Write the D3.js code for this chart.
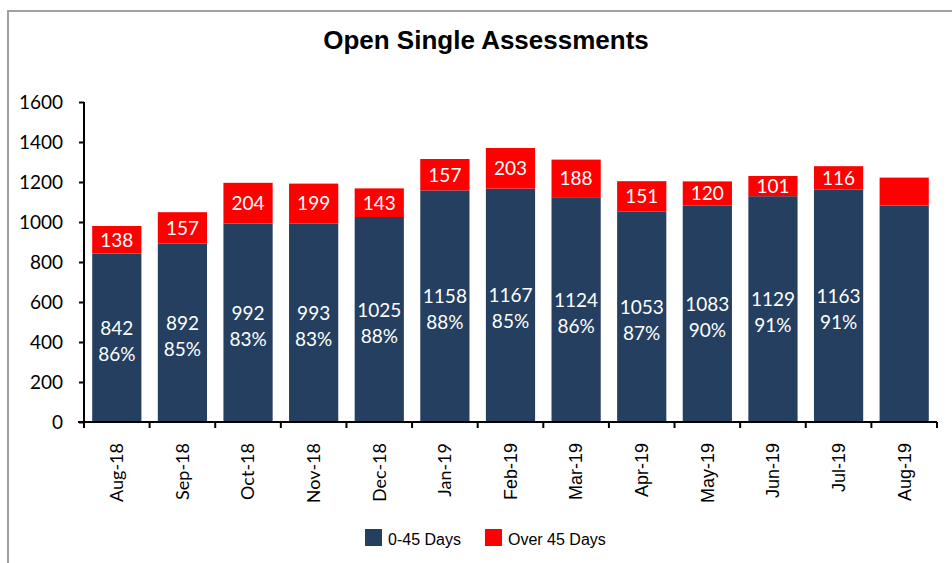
<!DOCTYPE html>
<html>
<head>
<meta charset="utf-8">
<script src="https://cdn.jsdelivr.net/npm/d3@7"></script>
<style>
  body { margin: 0; background: #fff; }
  svg { display: block; }
</style>
</head>
<body>
<div id="chart"></div>
<script>
// months on the x axis
var months = ["Aug-18", "Sep-18", "Oct-18", "Nov-18", "Dec-18", "Jan-19", "Feb-19",
              "Mar-19", "Apr-19", "May-19", "Jun-19", "Jul-19", "Aug-19"];
// 0-45 days (blue) and over 45 days (red)
var within45 = [842, 892, 992, 993, 1025, 1158, 1167, 1124, 1053, 1083, 1129, 1163, 1082];
var over45 = [138, 157, 204, 199, 143, 157, 203, 188, 151, 120, 101, 116, 140];
// percent labels shown in the blue part (last month has none)
var pctLabels = ["86%", "85%", "83%", "83%", "88%", "88%", "85%", "86%", "87%", "90%", "91%", "91%", null];
var showLabels = [true, true, true, true, true, true, true, true, true, true, true, true, false];
var yTicks = [0, 200, 400, 600, 800, 1000, 1200, 1400, 1600];

var W = 952, H = 563;
var blue = "#243f60", red = "#ff0000";
var numFont = "Lato, 'Open Sans', sans-serif";
var arial = "'Liberation Sans', Arial, sans-serif";

var svg = d3.select("#chart").append("svg")
    .attr("width", W)
    .attr("height", H);

// chart frame (runs off the right and bottom edge)
svg.append("rect")
    .attr("x", 8).attr("y", 11)
    .attr("width", 1000).attr("height", 1000)
    .attr("fill", "none")
    .attr("stroke", "#a0a0a0")
    .attr("stroke-width", 2);

svg.append("text")
    .attr("x", 486).attr("y", 49)
    .attr("text-anchor", "middle")
    .style("font-family", arial)
    .style("font-weight", "bold")
    .style("font-size", "26px")
    .text("Open Single Assessments");

var x = d3.scaleBand()
    .domain(months)
    .range([84, 937])
    .paddingInner(0.25)
    .paddingOuter(0.125);

var y = d3.scaleLinear()
    .domain([0, 1600])
    .range([422, 102]);

var data = months.map(function(m, i) {
    return { month: m, low: within45[i], high: over45[i], pct: pctLabels[i], show: showLabels[i] };
});

var bars = svg.selectAll(".bar")
    .data(data)
    .enter().append("g")
    .attr("class", "bar");

bars.append("rect")
    .attr("x", function(d) { return x(d.month); })
    .attr("y", function(d) { return y(d.low); })
    .attr("width", x.bandwidth())
    .attr("height", function(d) { return y(0) - y(d.low); })
    .attr("fill", blue);

bars.append("rect")
    .attr("x", function(d) { return x(d.month); })
    .attr("y", function(d) { return y(d.low + d.high); })
    .attr("width", x.bandwidth())
    .attr("height", function(d) { return y(d.low) - y(d.low + d.high); })
    .attr("fill", red);

var labelled = bars.filter(function(d) { return d.show; });

// red segment value
labelled.append("text")
    .attr("x", function(d) { return x(d.month) + x.bandwidth() / 2; })
    .attr("y", function(d) { return (y(d.low) + y(d.low + d.high)) / 2; })
    .attr("dy", "0.36em")
    .attr("text-anchor", "middle")
    .attr("fill", "#fff")
    .style("font-family", numFont)
    .style("font-size", "19px")
    .text(function(d) { return d.high; });

// blue segment value + percent
var blueLbl = labelled.append("text")
    .attr("text-anchor", "middle")
    .attr("fill", "#fff")
    .style("font-family", numFont)
    .style("font-size", "19px");

blueLbl.append("tspan")
    .attr("x", function(d) { return x(d.month) + x.bandwidth() / 2; })
    .attr("y", function(d) { return (y(0) + y(d.low)) / 2 - 3; })
    .text(function(d) { return d.low; });

blueLbl.append("tspan")
    .attr("x", function(d) { return x(d.month) + x.bandwidth() / 2; })
    .attr("y", function(d) { return (y(0) + y(d.low)) / 2 + 23; })
    .text(function(d) { return d.pct; });

// y axis
var yAxis = svg.append("g")
    .attr("transform", "translate(84,0)")
    .call(d3.axisLeft(y).tickValues(yTicks).tickFormat(d3.format("d")).tickSize(5).tickPadding(16));
yAxis.selectAll("text")
    .style("font-family", numFont)
    .style("font-size", "19px")
    .attr("fill", "#000");
yAxis.selectAll("line").attr("stroke", "#000").attr("stroke-width", 2);
yAxis.select(".domain").attr("stroke", "#000").attr("stroke-width", 2).attr("d", "M0,102V422");

// x axis, ticks between the bars
var xAxis = svg.append("g")
    .attr("transform", "translate(0,422)");
xAxis.append("line")
    .attr("x1", 78).attr("x2", 937)
    .attr("stroke", "#000").attr("stroke-width", 2);
xAxis.selectAll(".tk")
    .data(months.concat(["end"]))
    .enter().append("line")
    .attr("x1", function(d, i) { return 84 + i * x.step(); })
    .attr("x2", function(d, i) { return 84 + i * x.step(); })
    .attr("y1", 0).attr("y2", 6)
    .attr("stroke", "#000").attr("stroke-width", 2);

xAxis.selectAll(".lbl")
    .data(months)
    .enter().append("text")
    .attr("transform", function(d) {
        return "translate(" + (x(d) + x.bandwidth() / 2) + ",21) rotate(-90)";
    })
    .attr("dy", "0.35em")
    .attr("text-anchor", "end")
    .style("font-family", function(d, i) { return i < 6 ? numFont : arial; })
    .style("font-size", "18px")
    .text(function(d) { return d; });

// legend
var legendItems = [
    { label: "0-45 Days", color: blue, x: 365 },
    { label: "Over 45 Days", color: red, x: 485 }
];
var legend = svg.selectAll(".legend")
    .data(legendItems)
    .enter().append("g")
    .attr("class", "legend")
    .attr("transform", function(d) { return "translate(" + d.x + ",529)"; });
legend.append("rect")
    .attr("width", 17).attr("height", 17)
    .attr("fill", function(d) { return d.color; });
legend.append("text")
    .attr("x", 23).attr("y", 16)
    .style("font-family", arial)
    .style("font-size", "16px")
    .text(function(d) { return d.label; });
</script>
</body>
</html>
